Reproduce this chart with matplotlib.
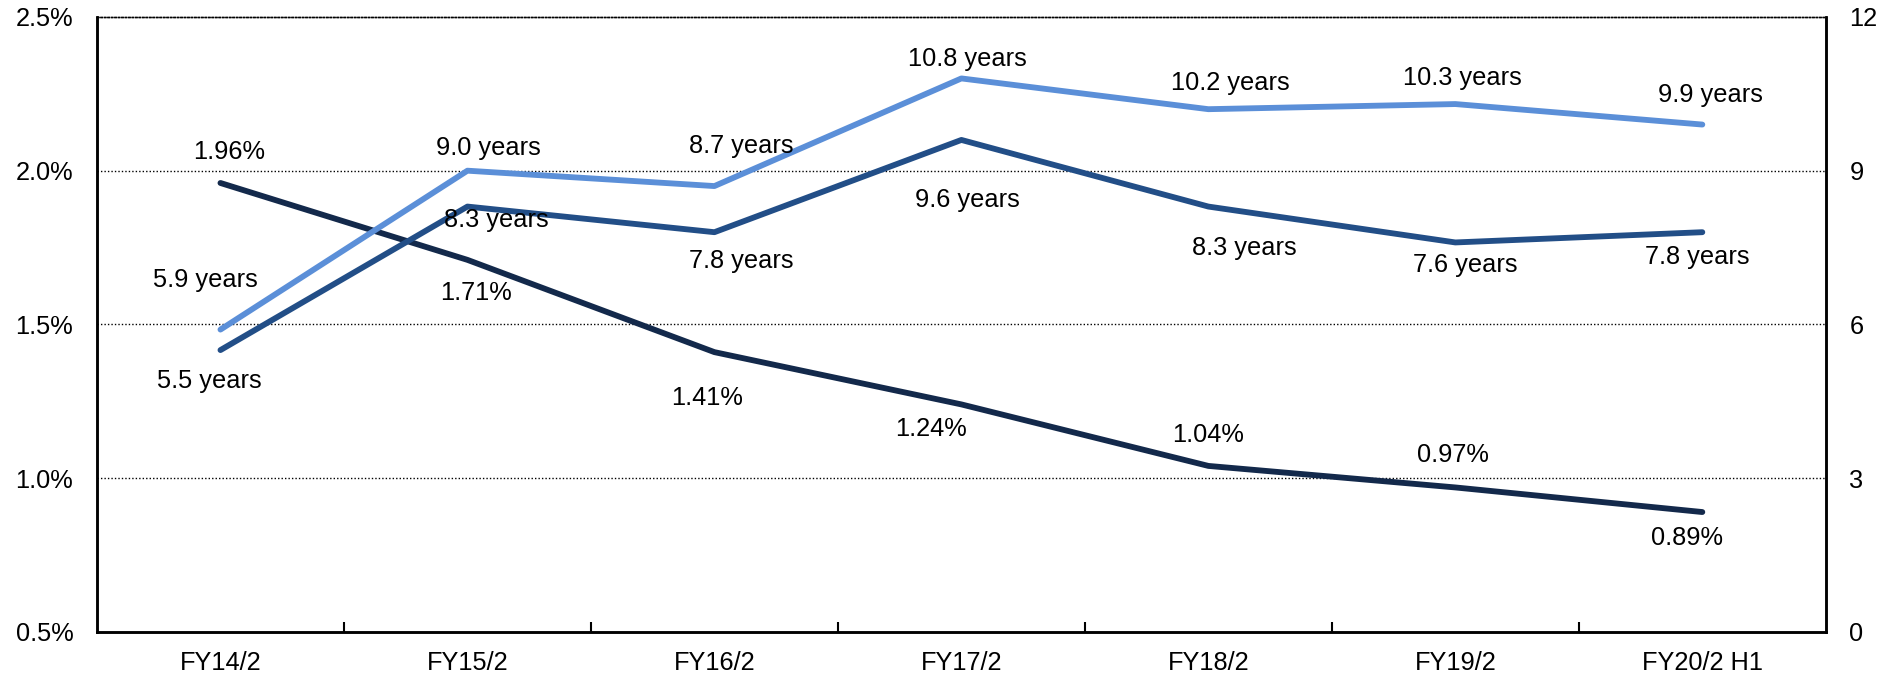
import matplotlib.pyplot as plt
from matplotlib.ticker import FixedLocator

plt.rcParams['font.family'] = ['Liberation Sans', 'DejaVu Sans']

categories = ['FY14/2', 'FY15/2', 'FY16/2', 'FY17/2', 'FY18/2', 'FY19/2', 'FY20/2 H1']
rate = [1.96, 1.71, 1.41, 1.24, 1.04, 0.97, 0.89]
years_upper = [5.9, 9.0, 8.7, 10.8, 10.2, 10.3, 9.9]
years_lower = [5.5, 8.3, 7.8, 9.6, 8.3, 7.6, 7.8]

# label offsets from each point, in points (dx, dy)
rate_off = [(6, 22), (6, -24), (-5, -33), (-22, -18), (0, 22), (-2, 23), (-11, -19)]
upper_off = [(-11, 36), (15, 16), (19, 29), (4, 14), (16, 19), (5, 19), (6, 21)]
lower_off = [(-8, -22), (21, -10), (19, -21), (4, -43), (26, -30), (7, -16), (-4, -18)]

c_navy = '#13294b'
c_mid = '#224e87'
c_light = '#5b8fd8'

fig = plt.figure(figsize=(18.94, 6.77), dpi=100)
ax = fig.add_axes([0.0512, 0.0665, 0.9128, 0.9085])
ax2 = ax.twinx()

x = list(range(len(categories)))

ax2.plot(x, years_upper, color=c_light, lw=4.2, solid_capstyle='round', zorder=3)
ax2.plot(x, years_lower, color=c_mid, lw=4.2, solid_capstyle='round', zorder=3)
ax.plot(x, rate, color=c_navy, lw=4.2, solid_capstyle='round', zorder=3)

fs = 18.3
for i, v in enumerate(rate):
    ax.annotate(f'{v:.2f}%', (i, v), xytext=rate_off[i], textcoords='offset points',
                ha='center', va='center', fontsize=fs)
for i, v in enumerate(years_upper):
    ax2.annotate(f'{v:.1f} years', (i, v), xytext=upper_off[i], textcoords='offset points',
                 ha='center', va='center', fontsize=fs)
for i, v in enumerate(years_lower):
    ax2.annotate(f'{v:.1f} years', (i, v), xytext=lower_off[i], textcoords='offset points',
                 ha='center', va='center', fontsize=fs)

ax.set_xlim(-0.5, len(categories) - 0.5)
ax.set_ylim(0.5, 2.5)
ax2.set_ylim(0, 12)

ax.set_yticks([0.5, 1.0, 1.5, 2.0, 2.5])
ax.set_yticklabels(['0.5%', '1.0%', '1.5%', '2.0%', '2.5%'])
ax2.set_yticks([0, 3, 6, 9, 12])

ax.set_xticks(x)
ax.set_xticklabels(categories)
ax.xaxis.set_minor_locator(FixedLocator([i + 0.5 for i in range(len(categories) - 1)]))
ax.tick_params(axis='x', which='major', length=0, pad=14, labelsize=fs)
ax.tick_params(axis='x', which='minor', direction='in', length=7, width=1.5)
ax.tick_params(axis='y', length=0, pad=17, labelsize=fs)
ax2.tick_params(axis='y', length=0, pad=17, labelsize=fs)

for g in [1.0, 1.5, 2.0]:
    ax.axhline(g, color='black', lw=1, ls=(0, (1, 1.5)), zorder=1)

for a in (ax, ax2):
    for s in ['left', 'right', 'bottom']:
        a.spines[s].set_linewidth(1.8)
    a.spines['top'].set_linewidth(1)
    a.spines['top'].set_linestyle((0, (1, 1.5)))

fig.savefig('out.png', dpi=100)
